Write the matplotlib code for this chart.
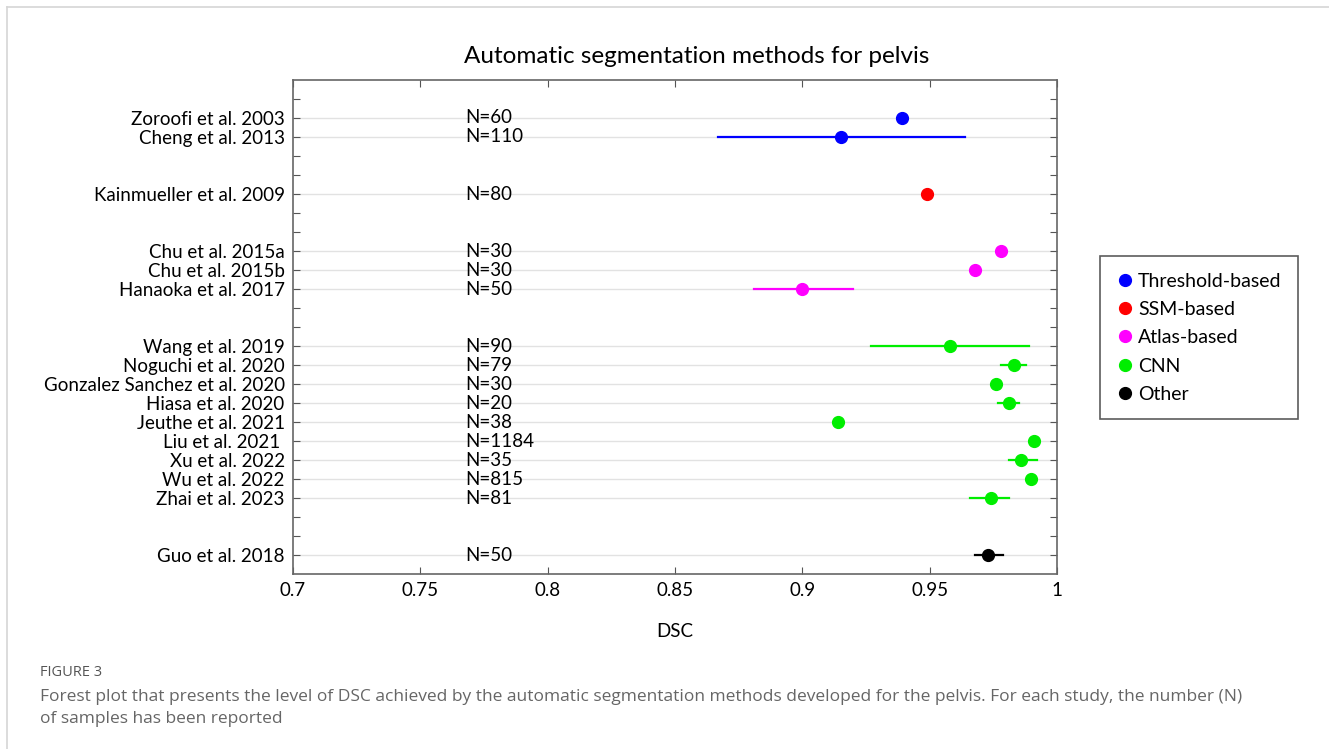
import numpy as np
import matplotlib.pyplot as plt
from matplotlib.lines import Line2D

# rows from top; '' = empty spacer row
studies = ['', 'Zoroofi et al. 2003', 'Cheng et al. 2013', '', '',
           'Kainmueller et al. 2009', '', '',
           'Chu et al. 2015a', 'Chu et al. 2015b', 'Hanaoka et al. 2017', '', '',
           'Wang et al. 2019', 'Noguchi et al. 2020', 'Gonzalez Sanchez et al. 2020',
           'Hiasa et al. 2020', 'Jeuthe et al. 2021', 'Liu et al. 2021 ', 'Xu et al. 2022',
           'Wu et al. 2022', 'Zhai et al. 2023', '', '', 'Guo et al. 2018']
n_samples = ['', 'N=60', 'N=110', '', '', 'N=80', '', '', 'N=30', 'N=30', 'N=50', '', '',
             'N=90', 'N=79', 'N=30', 'N=20', 'N=38', 'N=1184', 'N=35', 'N=815', 'N=81',
             '', '', 'N=50']
dsc = [np.nan, 0.939, 0.915, np.nan, np.nan, 0.949, np.nan, np.nan,
       0.978, 0.968, 0.900, np.nan, np.nan,
       0.958, 0.983, 0.976, 0.981, 0.914, 0.991, 0.986, 0.990, 0.974,
       np.nan, np.nan, 0.973]
dsc_lo = [np.nan, np.nan, 0.867, np.nan, np.nan, np.nan, np.nan, np.nan,
          np.nan, np.nan, 0.881, np.nan, np.nan,
          0.927, 0.978, np.nan, 0.977, np.nan, np.nan, 0.981, np.nan, 0.966,
          np.nan, np.nan, 0.968]
dsc_hi = [np.nan, np.nan, 0.964, np.nan, np.nan, np.nan, np.nan, np.nan,
          np.nan, np.nan, 0.920, np.nan, np.nan,
          0.989, 0.988, np.nan, 0.985, np.nan, np.nan, 0.992, np.nan, 0.981,
          np.nan, np.nan, 0.979]
group = ['', 'Threshold-based', 'Threshold-based', '', '', 'SSM-based', '', '',
         'Atlas-based', 'Atlas-based', 'Atlas-based', '', '',
         'CNN', 'CNN', 'CNN', 'CNN', 'CNN', 'CNN', 'CNN', 'CNN', 'CNN', '', '', 'Other']
group_names = ['Threshold-based', 'SSM-based', 'Atlas-based', 'CNN', 'Other']
group_colors = ['#0000ff', '#ff0000', '#ff00ff', '#00ee00', '#000000']
xticks = [0.7, 0.75, 0.8, 0.85, 0.9, 0.95, 1.0]
xticklabels = ['0.7', '0.75', '0.8', '0.85', '0.9', '0.95', '1']

cmap = dict(zip(group_names, group_colors))
ypos = np.arange(1, len(studies) + 1)

plt.rcParams['font.family'] = ['Lato', 'DejaVu Sans']
fig = plt.figure(figsize=(13.29, 7.49), dpi=100)
ax = fig.add_axes([0.2205, 0.2336, 0.5748, 0.6596])

for y, name, n, v, lo, hi, g in zip(ypos, studies, n_samples, dsc, dsc_lo, dsc_hi, group):
    if name == '':
        continue
    ax.axhline(y, color='#e2e2e2', lw=1, zorder=0)
    c = cmap[g]
    if not np.isnan(lo):
        ax.plot([lo, hi], [y, y], color=c, lw=1.6, zorder=2)
    ax.plot(v, y, 'o', color=c, ms=8.5, zorder=3)
    ax.text(0.7676, y, n, fontsize=13.5, va='center', ha='left')

ax.set_xlim(0.7, 1.0)
ax.set_ylim(len(studies) + 1, 0)
ax.set_yticks(ypos)
ax.set_yticklabels(studies, fontsize=13.5)
ax.set_xticks(xticks)
ax.set_xticklabels(xticklabels, fontsize=13.5)
ax.tick_params(axis='both', direction='in', length=5, color='#555555',
               top=True, right=True, pad=6)
for s in ax.spines.values():
    s.set_color('#666666')
    s.set_linewidth(1.2)
ax.set_xlabel('DSC', fontsize=13.5, labelpad=17)

fig.text(0.5245, 0.925, 'Automatic segmentation methods for pelvis', fontsize=17.5,
         ha='center', va='center')

handles = [Line2D([], [], marker='o', ls='', color=c, ms=8.5) for c in group_colors]
leg = fig.legend(handles, group_names, loc='upper left', bbox_to_anchor=(0.8277, 0.658),
                 fontsize=14, frameon=True, fancybox=False, edgecolor='#333333',
                 handletextpad=0.2, labelspacing=0.58, borderpad=0.85, handlelength=0.9,
                 borderaxespad=0)
leg.get_frame().set_linewidth(1.2)

# page frame and caption
fig.add_artist(Line2D([7 / 1329, 1], [1 - 7 / 749, 1 - 7 / 749], color='#d6d6d6', lw=1.2))
fig.add_artist(Line2D([7 / 1329, 7 / 1329], [0, 1 - 7 / 749], color='#d6d6d6', lw=1.2))
fig.text(40 / 1329, 1 - 673 / 749, 'FIGURE 3', fontsize=10.5, color='#555555',
         family='Open Sans', va='center')
fig.text(40 / 1329, 1 - 697 / 749,
         'Forest plot that presents the level of DSC achieved by the automatic segmentation '
         'methods developed for the pelvis. For each study, the number (N)',
         fontsize=12.5, color='#666666', family='Open Sans', va='center')
fig.text(40 / 1329, 1 - 719 / 749, 'of samples has been reported',
         fontsize=12.5, color='#666666', family='Open Sans', va='center')

fig.savefig('out.png', dpi=100)
